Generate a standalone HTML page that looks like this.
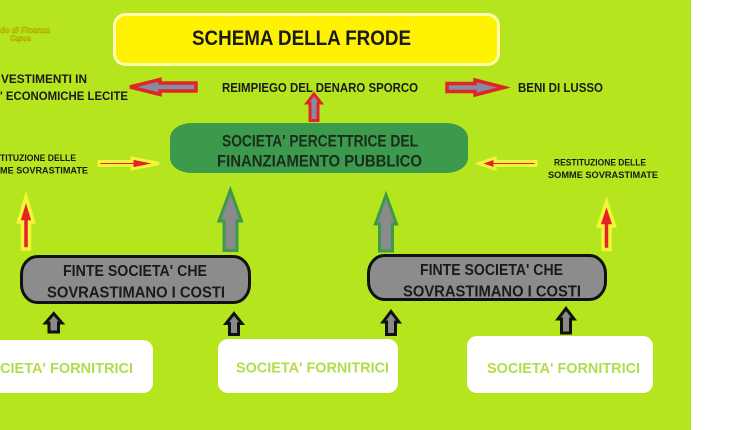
<!DOCTYPE html>
<html>
<head>
<meta charset="utf-8">
<style>
html,body{margin:0;padding:0;background:#fff;}
body{width:750px;height:430px;overflow:hidden;}
svg{display:block;}
text{font-family:"Liberation Sans",Arial,sans-serif;font-weight:bold;}
</style>
</head>
<body>
<svg width="750" height="430" viewBox="0 0 750 430" xmlns="http://www.w3.org/2000/svg">
  <rect x="0" y="0" width="750" height="430" fill="#ffffff"/>
  <rect x="0" y="0" width="691" height="430" fill="#b5e61d"/>

  <!-- logo -->
  <text x="0" y="33" font-size="8" font-style="italic" fill="#e8d400" stroke="#8a7a00" stroke-width="0.3" textLength="50" lengthAdjust="spacingAndGlyphs">do di Finanza</text>
  <text x="10" y="41" font-size="8" font-style="italic" fill="#e8d400" stroke="#8a7a00" stroke-width="0.3" textLength="21" lengthAdjust="spacingAndGlyphs">Capua</text>

  <!-- title -->
  <rect x="114.5" y="14.5" width="384" height="50" rx="11" ry="11" fill="#fff200" stroke="#fdfbb0" stroke-width="3"/>
  <text x="192" y="45" font-size="21" fill="#1a1a1a" textLength="219" lengthAdjust="spacingAndGlyphs">SCHEMA DELLA FRODE</text>

  <!-- top row texts -->
  <text x="1" y="83" font-size="12" fill="#1a1a1a" textLength="86" lengthAdjust="spacingAndGlyphs">VESTIMENTI IN</text>
  <text x="0" y="100" font-size="12" fill="#1a1a1a" textLength="128" lengthAdjust="spacingAndGlyphs">' ECONOMICHE LECITE</text>
  <text x="222" y="92" font-size="12.5" fill="#1a1a1a" textLength="196" lengthAdjust="spacingAndGlyphs">REIMPIEGO DEL DENARO SPORCO</text>
  <text x="518" y="92" font-size="12.5" fill="#1a1a1a" textLength="85" lengthAdjust="spacingAndGlyphs">BENI DI LUSSO</text>

  <!-- top row arrows -->
  <path d="M130,87 L160,79.5 L160,83 L196,83 L196,91 L160,91 L160,94.5 Z" fill="#8a8aa0" stroke="#e0252a" stroke-width="3.5" stroke-linejoin="miter"/>
  <path d="M504,87.5 L475,80 L475,83.5 L447,83.5 L447,91.5 L475,91.5 L475,95 Z" fill="#8a8aa0" stroke="#e0252a" stroke-width="3.5"/>
  <path d="M314,94 L321,103 L318,103 L318,120.5 L310,120.5 L310,103 L307,103 Z" fill="#8a8aa0" stroke="#e0252a" stroke-width="3"/>

  <!-- green box -->
  <rect x="170" y="123" width="298" height="50" rx="22" ry="15" fill="#3b9a4b"/>
  <text x="222" y="146.5" font-size="17" fill="#1c2b1c" textLength="196" lengthAdjust="spacingAndGlyphs">SOCIETA' PERCETTRICE DEL</text>
  <text x="217" y="166.5" font-size="17" fill="#1c2b1c" textLength="205" lengthAdjust="spacingAndGlyphs">FINANZIAMENTO PUBBLICO</text>

  <!-- restituzione texts -->
  <text x="0" y="161" font-size="9.5" fill="#1a1a1a" textLength="76" lengthAdjust="spacingAndGlyphs">TITUZIONE DELLE</text>
  <text x="0" y="173.5" font-size="9.5" fill="#1a1a1a" textLength="88" lengthAdjust="spacingAndGlyphs">ME SOVRASTIMATE</text>
  <text x="554" y="165.5" font-size="9.5" fill="#1a1a1a" textLength="92" lengthAdjust="spacingAndGlyphs">RESTITUZIONE DELLE</text>
  <text x="548" y="178" font-size="9.5" fill="#1a1a1a" textLength="110" lengthAdjust="spacingAndGlyphs">SOMME SOVRASTIMATE</text>

  <!-- restituzione arrows -->
  <path d="M159,163.5 L132,158 L132,161.5 L99,161.5 L99,165.5 L132,165.5 L132,169 Z" fill="#e52228" stroke="#f4f53a" stroke-width="3"/>
  <path d="M479,163.5 L495,158 L495,161.5 L536,161.5 L536,165.5 L495,165.5 L495,169 Z" fill="#e52228" stroke="#f4f53a" stroke-width="3"/>

  <!-- vertical red/yellow arrows -->
  <path d="M26,197 L33.5,222 L29.5,222 L29.5,249 L22.5,249 L22.5,222 L18.5,222 Z" fill="#e52228" stroke="#f4f53a" stroke-width="3.5"/>
  <path d="M606.5,202 L614.5,226 L610,226 L610,249.5 L603,249.5 L603,226 L598.5,226 Z" fill="#e52228" stroke="#f4f53a" stroke-width="3.5"/>

  <!-- green/gray vertical arrows -->
  <path d="M230.3,190 L241.5,221 L237,221 L237,250.5 L224,250.5 L224,221 L219,221 Z" fill="#8a8a8a" stroke="#3c9a4a" stroke-width="3"/>
  <path d="M386,195 L396.5,224 L392.5,224 L392.5,251 L379.5,251 L379.5,224 L375.5,224 Z" fill="#8a8a8a" stroke="#3c9a4a" stroke-width="3"/>

  <!-- gray boxes -->
  <rect x="21.5" y="256.5" width="228" height="46" rx="16" ry="18" fill="#8c8c8c" stroke="#111" stroke-width="3"/>
  <text x="63" y="276" font-size="16" fill="#1a1a1a" textLength="144" lengthAdjust="spacingAndGlyphs">FINTE SOCIETA' CHE</text>
  <text x="47" y="297.5" font-size="16" fill="#1a1a1a" textLength="178" lengthAdjust="spacingAndGlyphs">SOVRASTIMANO I COSTI</text>

  <rect x="368.5" y="255.5" width="237" height="44" rx="16" ry="18" fill="#8c8c8c" stroke="#111" stroke-width="3"/>
  <text x="420" y="275" font-size="16" fill="#1a1a1a" textLength="143" lengthAdjust="spacingAndGlyphs">FINTE SOCIETA' CHE</text>
  <text x="403" y="296.5" font-size="16" fill="#1a1a1a" textLength="178" lengthAdjust="spacingAndGlyphs">SOVRASTIMANO I COSTI</text>

  <!-- small black arrows -->
  <path d="M53.7,313.5 L62,323 L58.5,323 L58.5,332 L49,332 L49,323 L45.5,323 Z" fill="#8a8a8a" stroke="#111" stroke-width="3"/>
  <path d="M234,313.5 L242,323.5 L238.5,323.5 L238.5,334.5 L229.5,334.5 L229.5,323.5 L226,323.5 Z" fill="#8a8a8a" stroke="#111" stroke-width="3"/>
  <path d="M391,311.5 L399,322 L395.5,322 L395.5,334.5 L386.5,334.5 L386.5,322 L383,322 Z" fill="#8a8a8a" stroke="#111" stroke-width="3"/>
  <path d="M566,308.5 L574,319 L570.5,319 L570.5,333 L561.5,333 L561.5,319 L558,319 Z" fill="#8a8a8a" stroke="#111" stroke-width="3"/>

  <!-- white boxes -->
  <rect x="-20" y="340" width="173" height="53" rx="10" ry="10" fill="#ffffff"/>
  <text x="0" y="373" font-size="15" fill="#b3dc4a" textLength="133" lengthAdjust="spacingAndGlyphs">CIETA' FORNITRICI</text>

  <rect x="218" y="339" width="180" height="54" rx="10" ry="10" fill="#ffffff"/>
  <text x="236" y="372.5" font-size="15" fill="#b3dc4a" textLength="153" lengthAdjust="spacingAndGlyphs">SOCIETA' FORNITRICI</text>

  <rect x="467" y="336" width="186" height="57" rx="10" ry="10" fill="#ffffff"/>
  <text x="487" y="373" font-size="15" fill="#b3dc4a" textLength="153" lengthAdjust="spacingAndGlyphs">SOCIETA' FORNITRICI</text>
</svg>
</body>
</html>
